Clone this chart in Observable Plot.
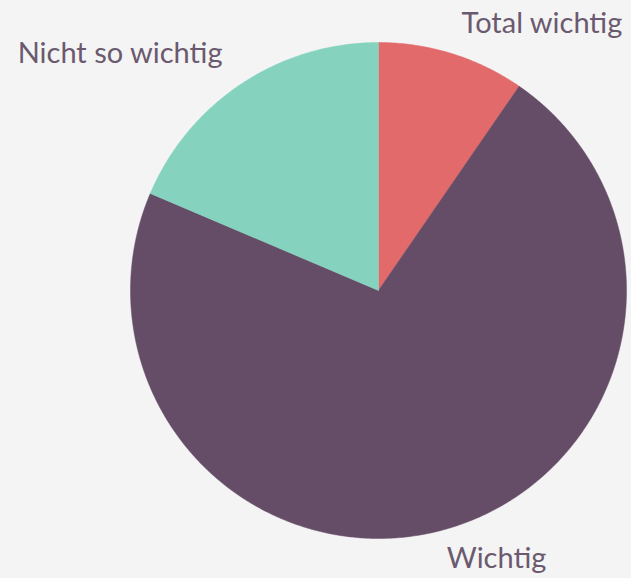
<!DOCTYPE html>
<html>
<head>
<meta charset="utf-8">
<script src="https://cdn.jsdelivr.net/npm/d3@7"></script>
<script src="https://cdn.jsdelivr.net/npm/@observablehq/plot@0.6"></script>
<style>
  html, body { margin: 0; padding: 0; background: #f4f4f4; }
  #chart svg { display: block; }
</style>
</head>
<body>
<div id="chart"></div>
<script>
// Data (clockwise from 12 o'clock)
const categories = ["Total wichtig", "Wichtig", "Nicht so wichtig"];
const shares = [9.6, 71.8, 18.6];
const colors = ["#e26a6a", "#654d67", "#85d2bf"];
// label anchor positions (in unit-circle space)
const labelX = [0.659, 0.476, -1.042];
const labelY = [1.077, -1.081, 0.956];

const pie = d3.pie().sort(null).value(d => d.value)(
  categories.map((c, i) => ({ category: c, value: shares[i] }))
);

// Build slice outlines from the pie angles
const slicePts = [];
for (const s of pie) {
  const cat = s.data.category;
  slicePts.push({ category: cat, x: 0, y: 0 });
  const steps = Math.max(2, Math.ceil((s.endAngle - s.startAngle) / (Math.PI / 360)));
  for (let k = 0; k <= steps; k++) {
    const a = s.startAngle + (s.endAngle - s.startAngle) * k / steps;
    slicePts.push({ category: cat, x: Math.sin(a), y: Math.cos(a) });
  }
  slicePts.push({ category: cat, x: 0, y: 0 });
}

const labels = categories.map((c, i) => ({ label: c, x: labelX[i], y: labelY[i] }));

const chart = Plot.plot({
  width: 631,
  height: 578,
  marginLeft: 130,
  marginRight: 5,
  marginTop: 42,
  marginBottom: 40,
  style: { background: "#f4f4f4", overflow: "visible" },
  x: { domain: [-1, 1], axis: null },
  y: { domain: [-1, 1], axis: null },
  color: { domain: categories, range: colors },
  marks: [
    Plot.line(slicePts, { x: "x", y: "y", z: "category", fill: "category", stroke: "category", strokeWidth: 0.5, curve: "linear" }),
    Plot.text(labels, { x: "x", y: "y", text: "label", fontSize: 29, fill: "#6b5a6f", fontFamily: "Lato, 'Open Sans', sans-serif", clip: false })
  ]
});
document.getElementById("chart").appendChild(chart);
</script>
</body>
</html>
